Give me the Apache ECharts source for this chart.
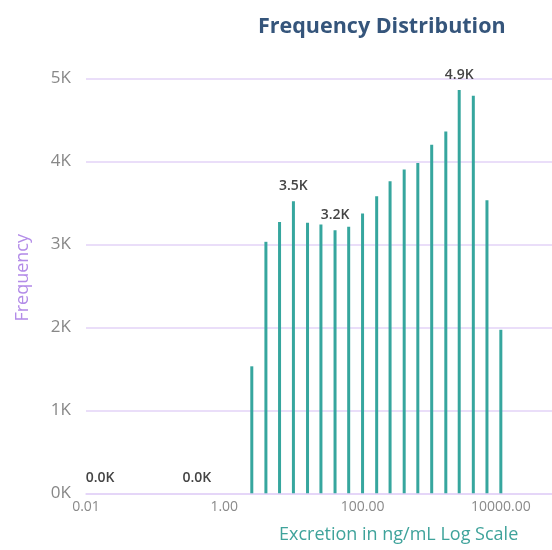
<!DOCTYPE html>
<html>
<head>
<meta charset="utf-8">
<script src="https://cdn.jsdelivr.net/npm/echarts@6/dist/echarts.min.js"></script>
<style>
  html, body { margin: 0; padding: 0; background: #ffffff; }
  #chart { width: 552px; height: 550px; }
</style>
</head>
<body>
<div id="chart"></div>
<script>
// Histogram of excretion (ng/mL), bins spaced evenly on a log10 scale
const binCenters = [0.016, 0.4, 2.5, 4.0, 6.3, 10, 16, 25, 40, 63, 100, 160, 250, 400, 630, 1000, 1600, 2500, 4000, 6300, 10000];
const frequencies = [0, 0, 1530, 3030, 3270, 3520, 3260, 3240, 3170, 3210, 3370, 3580, 3760, 3900, 3980, 4200, 4360, 4860, 4790, 3530, 1970];
// bins that carry a value label
const labelledBins = [0.016, 0.4, 10, 40, 2500];
// axis tick labels
const xTickLabels = ['0.01', '1.00', '100.00', '10000.00'];
const yTickLabels = ['0K', '1K', '2K', '3K', '4K', '5K'];

const FONT = '"Open Sans", "Noto Sans", sans-serif';
const GRID_COLOR = '#e3d3f7';

const seriesData = binCenters.map((x, i) => {
  const item = { value: [Math.log10(x), frequencies[i]] };
  if (labelledBins.includes(x)) {
    item.label = { show: true };
  }
  return item;
});

const chart = echarts.init(document.getElementById('chart'), null, { renderer: 'canvas' });
chart.setOption({
  animation: false,
  backgroundColor: '#ffffff',
  title: {
    text: 'Frequency Distribution',
    left: 253,
    top: 11,
    textStyle: { fontFamily: FONT, fontSize: 21.5, fontWeight: 'bold', color: '#35557b' }
  },
  graphic: [
    {
      type: 'text',
      left: 279,
      top: 526,
      style: { text: 'Excretion in ng/mL Log Scale', font: '18px ' + FONT, fill: '#3fa39b' }
    },
    {
      type: 'text',
      left: 14,
      top: 234,
      rotation: Math.PI / 2,
      style: { text: 'Frequency', font: '18px ' + FONT, fill: '#b38ce8' }
    }
  ],
  grid: { left: 86, right: 0, top: 78.3, bottom: 56.7, containLabel: false },
  xAxis: {
    type: 'value',
    min: -2,
    max: 4.74,
    interval: 2,
    axisLine: { show: true, lineStyle: { color: GRID_COLOR, width: 1.5 } },
    axisTick: { show: false },
    splitLine: { show: false },
    axisLabel: {
      showMaxLabel: false,
      margin: 7,
      fontFamily: FONT,
      fontSize: 14,
      color: '#8a8a8a',
      formatter: v => xTickLabels[Math.round((v + 2) / 2)] || ''
    }
  },
  yAxis: {
    type: 'value',
    min: 0,
    max: 5000,
    interval: 1000,
    axisLine: { show: false },
    axisTick: { show: false },
    splitLine: { lineStyle: { color: GRID_COLOR, width: 1.5 } },
    axisLabel: {
      margin: 15,
      fontFamily: FONT,
      fontSize: 17,
      color: '#888888',
      formatter: v => yTickLabels[Math.round(v / 1000)]
    }
  },
  series: [{
    type: 'bar',
    barWidth: 3,
    data: seriesData,
    itemStyle: { color: '#36a69e' },
    label: {
      show: false,
      position: 'top',
      distance: 8,
      fontFamily: FONT,
      fontSize: 14,
      fontWeight: 600,
      color: '#444444',
      formatter: p => (p.value[1] / 1000).toFixed(1) + 'K'
    }
  }]
});
</script>
</body>
</html>
